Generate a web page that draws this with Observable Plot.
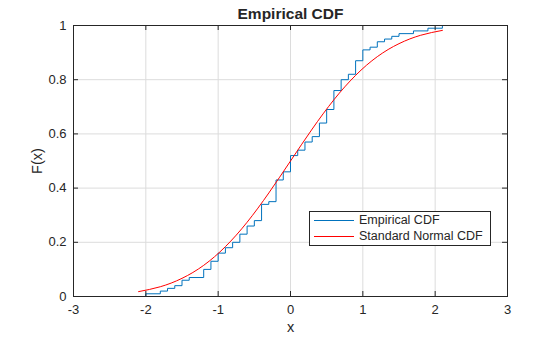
<!DOCTYPE html>
<html>
<head>
<meta charset="utf-8">
<script src="https://cdn.jsdelivr.net/npm/d3@7"></script>
<script src="https://cdn.jsdelivr.net/npm/@observablehq/plot@0.6"></script>
<style>
  body { margin: 0; background: #fff; }
  #wrap { position: relative; width: 560px; height: 337px; font-family: "Liberation Sans", Arial, sans-serif; }
  #legend { position: absolute; left: 309px; top: 211px; width: 180px; height: 33px; border: 1px solid #262626; background: #fff; font-size: 12.5px; line-height: 17px; color: #262626; }
  .row { position: absolute; left: 0; height: 17px; width: 180px; }
  .sw { position: absolute; left: 4px; top: 8px; width: 40px; height: 1px; }
  .tx { position: absolute; left: 49px; top: 0; white-space: nowrap; }
</style>
</head>
<body>
<div id="wrap"></div>
<script>
// Empirical CDF: step positions (x) and level from that x onward
const stepX = [-2.1,-2.0,-1.8,-1.7,-1.6,-1.5,-1.4,-1.2,-1.1,-1.0,-0.9,-0.8,-0.7,-0.6,-0.5,-0.4,-0.3,-0.2,-0.1,0,0.1,0.2,0.3,0.4,0.5,0.6,0.7,0.8,0.9,1.0,1.1,1.2,1.3,1.4,1.5,1.7,1.9,2.1];
const stepF = [0,0.01,0.02,0.03,0.04,0.06,0.07,0.10,0.13,0.16,0.18,0.20,0.23,0.26,0.28,0.34,0.35,0.43,0.46,0.52,0.54,0.57,0.59,0.64,0.69,0.76,0.80,0.82,0.87,0.91,0.92,0.94,0.95,0.96,0.97,0.98,0.99,1.0];
// Standard normal CDF curve (read at points)
const normX = [-2.1,-1.8,-1.5,-1.2,-0.9,-0.6,-0.3,0,0.3,0.6,0.9,1.2,1.5,1.8,2.1];
const normF = [0.018,0.036,0.067,0.115,0.184,0.274,0.382,0.5,0.618,0.726,0.816,0.885,0.933,0.964,0.982];
// Tick values
const xTicks = [-3,-2,-1,0,1,2,3];
const yTicks = [0,0.2,0.4,0.6,0.8,1];
const titleText = "Empirical CDF";
const xLabel = "x";
const yLabel = "F(x)";
const seriesNames = ["Empirical CDF", "Standard Normal CDF"];
const seriesColors = ["#0072BD", "#FF0000"];

const ecdf = stepX.map((x, i) => ({x, f: stepF[i]}));
const norm = normX.map((x, i) => ({x, f: normF[i]}));

const axisColor = "#262626";
const chart = Plot.plot({
  width: 560,
  height: 337,
  marginLeft: 73,
  marginRight: 53,
  marginTop: 25,
  marginBottom: 41,
  style: {fontFamily: "Liberation Sans, Arial, sans-serif", color: axisColor, background: "#fff"},
  x: {domain: [-3, 3]},
  y: {domain: [0, 1]},
  marks: [
    Plot.gridX(xTicks, {stroke: "#dcdcdc", strokeOpacity: 1}),
    Plot.gridY(yTicks, {stroke: "#dcdcdc", strokeOpacity: 1}),
    Plot.line(ecdf, {x: "x", y: "f", curve: "step-after", stroke: seriesColors[0], strokeWidth: 1}),
    Plot.line(norm, {x: "x", y: "f", curve: "natural", stroke: seriesColors[1], strokeWidth: 1}),
    Plot.frame({stroke: axisColor}),
    Plot.tickX(xTicks, {x: d => d, insetTop: 266, stroke: axisColor}),
    Plot.tickX(xTicks, {x: d => d, insetBottom: 266, stroke: axisColor}),
    Plot.tickY(yTicks, {y: d => d, insetRight: 429, stroke: axisColor}),
    Plot.tickY(yTicks, {y: d => d, insetLeft: 429, stroke: axisColor}),
    Plot.axisX(xTicks, {tickSize: 0, tickPadding: 8, fontSize: 13, tickFormat: d => String(d), label: null, fill: axisColor}),
    Plot.axisY(yTicks, {tickSize: 0, tickPadding: 7, fontSize: 13, tickFormat: d => String(d), label: null, fill: axisColor}),
    Plot.text([titleText], {text: d => d, frameAnchor: "top", lineAnchor: "middle", textAnchor: "middle", dy: -11, fontSize: 15.5, fontWeight: "bold", fill: axisColor}),
    Plot.text([xLabel], {text: d => d, frameAnchor: "bottom", lineAnchor: "middle", textAnchor: "middle", dy: 31, fontSize: 14.5, fill: axisColor}),
    Plot.text([yLabel], {text: d => d, frameAnchor: "left", lineAnchor: "middle", textAnchor: "middle", dx: -36, rotate: -90, fontSize: 14.5, fill: axisColor})
  ]
});
const wrap = document.getElementById("wrap");
wrap.appendChild(chart);

const legend = document.createElement("div");
legend.id = "legend";
seriesNames.forEach((name, i) => {
  const row = document.createElement("div");
  row.className = "row";
  row.style.top = (i === 0 ? 0 : 16) + "px";
  const sw = document.createElement("div");
  sw.className = "sw";
  sw.style.backgroundColor = seriesColors[i];
  const tx = document.createElement("span");
  tx.className = "tx";
  tx.textContent = name;
  row.appendChild(sw);
  row.appendChild(tx);
  legend.appendChild(row);
});
wrap.appendChild(legend);
</script>
</body>
</html>
